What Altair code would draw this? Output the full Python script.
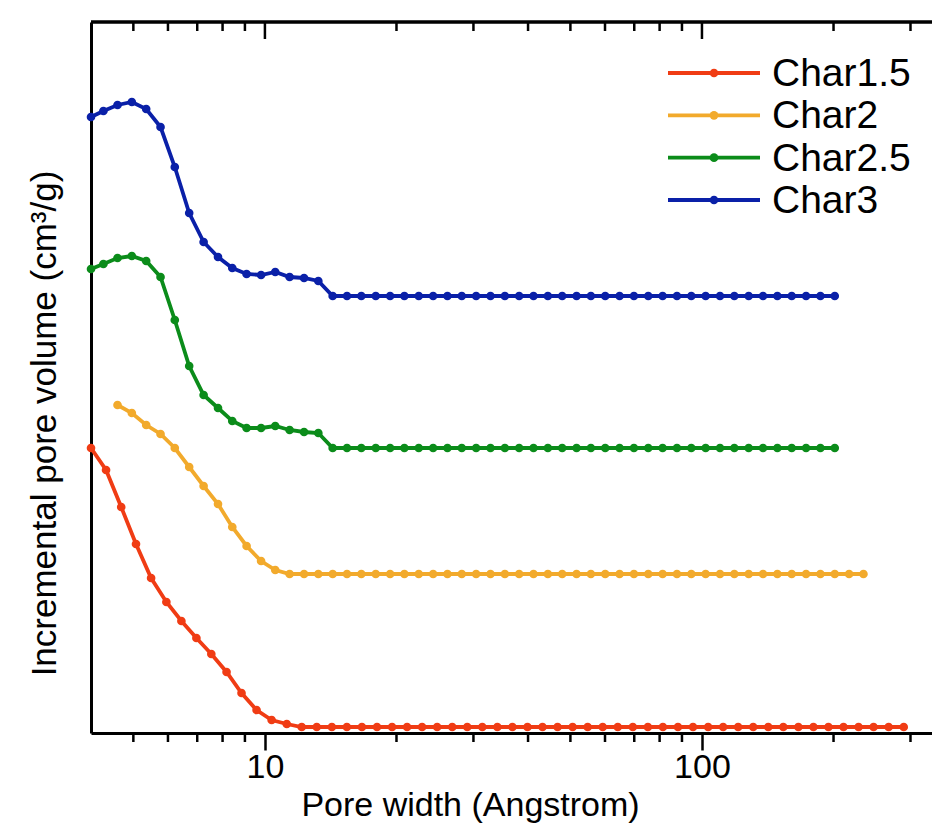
import altair as alt
import pandas as pd

# ---- data (pore width in Angstrom, volume in relative units) ----
series_names = ["Char1.5", "Char2", "Char2.5", "Char3"]
series_colors = ["#f03c14", "#f2aa2c", "#0b8c1a", "#0a20a8"]

w_char15 = [4.00, 4.33, 4.69, 5.07, 5.49, 5.95, 6.44, 6.97, 7.54, 8.17, 8.84, 9.57,
            10.36, 11.22, 12.14, 13.14, 14.23, 15.40, 16.67, 18.05, 19.54, 21.15,
            22.89, 24.78, 26.83, 29.04, 31.44, 34.03, 36.84, 39.88, 43.17, 46.73,
            50.59, 54.76, 59.28, 64.17, 69.47, 75.20, 81.40, 88.12, 95.39, 103.3,
            111.8, 121.0, 131.0, 141.8, 153.5, 166.2, 179.9, 194.7, 210.8, 228.2,
            247.0, 267.4, 289.5]
v_char15 = [285, 263, 226, 189, 155, 131, 112, 95, 79, 61, 40, 23,
            13, 9, 6, 6, 6, 6, 6, 6, 6, 6,
            6, 6, 6, 6, 6, 6, 6, 6, 6, 6,
            6, 6, 6, 6, 6, 6, 6, 6, 6, 6,
            6, 6, 6, 6, 6, 6, 6, 6, 6, 6,
            6, 6, 6]

w_char2 = [4.60, 4.96, 5.35, 5.77, 6.22, 6.71, 7.24, 7.81, 8.42, 9.08, 9.80, 10.56,
           11.39, 12.29, 13.25, 14.29, 15.41, 16.62, 17.93, 19.34, 20.85, 22.49,
           24.26, 26.16, 28.21, 30.43, 32.82, 35.40, 38.17, 41.17, 44.40, 47.89,
           51.65, 55.70, 60.07, 64.79, 69.88, 75.36, 81.28, 87.66, 94.54, 101.96,
           109.97, 118.60, 127.91, 137.95, 148.78, 160.46, 173.06, 186.65, 201.30,
           217.10, 234.15]
v_char2 = [328, 320, 308, 299, 285, 266, 247, 229, 206, 187, 172, 163,
           159, 159, 159, 159, 159, 159, 159, 159, 159, 159,
           159, 159, 159, 159, 159, 159, 159, 159, 159, 159,
           159, 159, 159, 159, 159, 159, 159, 159, 159, 159,
           159, 159, 159, 159, 159, 159, 159, 159, 159,
           159, 159]

w_char25 = [4.00, 4.27, 4.60, 4.96, 5.35, 5.77, 6.22, 6.71, 7.24, 7.81, 8.42, 9.08,
            9.80, 10.56, 11.39, 12.29, 13.25, 14.29, 15.41, 16.62, 17.93, 19.34,
            20.85, 22.49, 24.26, 26.16, 28.21, 30.43, 32.82, 35.40, 38.17, 41.17,
            44.40, 47.89, 51.65, 55.70, 60.07, 64.79, 69.88, 75.36, 81.28, 87.66,
            94.54, 101.96, 109.97, 118.60, 127.91, 137.95, 148.78, 160.46, 173.06,
            186.65, 201.30]
v_char25 = [464, 469, 475, 477, 472, 456, 413, 367, 338, 325, 312, 305,
            305, 307, 303, 301, 300, 285, 285, 285, 285, 285,
            285, 285, 285, 285, 285, 285, 285, 285, 285, 285,
            285, 285, 285, 285, 285, 285, 285, 285, 285, 285,
            285, 285, 285, 285, 285, 285, 285, 285, 285,
            285, 285]

w_char3 = list(w_char25)
v_char3 = [616, 622, 628, 631, 624, 606, 566, 520, 491, 476, 465, 459,
           458, 461, 456, 455, 452, 437, 437, 437, 437, 437,
           437, 437, 437, 437, 437, 437, 437, 437, 437, 437,
           437, 437, 437, 437, 437, 437, 437, 437, 437, 437,
           437, 437, 437, 437, 437, 437, 437, 437, 437,
           437, 437]

major_ticks = [10, 100]
minor_ticks = [5, 6, 7, 8, 9, 20, 30, 40, 50, 60, 70, 80, 90, 200, 300]

# ---- tables ----
rows = []
for name, ws, vs in zip(series_names,
                        [w_char15, w_char2, w_char25, w_char3],
                        [v_char15, v_char2, v_char25, v_char3]):
    for w, v in zip(ws, vs):
        rows.append({"series": name, "width": w, "vol": v})
df = pd.DataFrame(rows)
df_major = pd.DataFrame({"width": major_ticks})
df_minor = pd.DataFrame({"width": minor_ticks})
df_legend = pd.DataFrame({"series": series_names, "row": list(range(len(series_names)))})

W, H = 841, 711
X_MIN, X_MAX = 4, 336
Y_MAX = 711
FONT = "Liberation Sans"

xscale = alt.Scale(type="log", domain=[X_MIN, X_MAX], nice=False)
yscale = alt.Scale(domain=[0, Y_MAX], nice=False, zero=False)
cscale = alt.Scale(domain=series_names, range=series_colors)
rowscale = alt.Scale(domain=[0, len(series_names) - 1], range=[51, 178], nice=False, zero=False)

x_axis = alt.Axis(orient="bottom", values=major_ticks, format="d",
                  tickSize=17, tickWidth=2.5, tickColor="black",
                  domainWidth=3, domainColor="black", grid=False,
                  labelFontSize=34, labelFont=FONT, labelColor="black",
                  labelPadding=0, labelFlush=False,
                  title="Pore width (Angstrom)", titleFontSize=34,
                  titleFont=FONT, titleFontWeight="normal",
                  titleColor="black", titleX=379, titleY=82,
                  titleBaseline="alphabetic", titleAlign="center")

y_axis = alt.Axis(ticks=False, labels=False, grid=False,
                  domainWidth=3, domainColor="black",
                  title="Incremental pore volume (cm³/g)",
                  titleFontSize=35, titleFont=FONT,
                  titleFontWeight="normal", titleColor="black",
                  titleAngle=270, titleX=-36, titleY=401,
                  titleBaseline="alphabetic", titleAlign="center")

lines = alt.Chart(df).mark_line(
    strokeWidth=3.8,
    point=alt.OverlayMarkDef(filled=True, size=75, opacity=1),
).encode(
    x=alt.X("width:Q", scale=xscale, axis=x_axis),
    y=alt.Y("vol:Q", scale=yscale, axis=y_axis),
    color=alt.Color("series:N", scale=cscale, legend=None),
    order=alt.Order("width:Q"),
)

# minor/major tick marks and top frame, placed through the x and y scales
bottom_minor = alt.Chart(df_minor).mark_rule().encode(
    x=alt.X("width:Q", scale=xscale, axis=x_axis),
    y=alt.datum(0, scale=yscale, axis=y_axis), y2=alt.datum(-9),
    color=alt.value("black"), strokeWidth=alt.value(2.5),
)
top_minor = alt.Chart(df_minor).mark_rule().encode(
    x=alt.X("width:Q", scale=xscale, axis=x_axis),
    y=alt.datum(Y_MAX, scale=yscale, axis=y_axis), y2=alt.datum(Y_MAX - 9),
    color=alt.value("black"), strokeWidth=alt.value(2.5),
)
top_major = alt.Chart(df_major).mark_rule().encode(
    x=alt.X("width:Q", scale=xscale, axis=x_axis),
    y=alt.datum(Y_MAX, scale=yscale, axis=y_axis), y2=alt.datum(Y_MAX - 17),
    color=alt.value("black"), strokeWidth=alt.value(2.5),
)
top_frame = alt.Chart(df_major).mark_rule().encode(
    x=alt.datum(X_MIN, scale=xscale, axis=x_axis), x2=alt.datum(X_MAX),
    y=alt.datum(Y_MAX, scale=yscale, axis=y_axis),
    color=alt.value("black"), strokeWidth=alt.value(3),
)

main = alt.layer(lines, bottom_minor, top_minor, top_major, top_frame)

# ---- legend drawn from the series list ----
leg_line = alt.Chart(df_legend).mark_rule(strokeWidth=3.8).encode(
    x=alt.value(577), x2=alt.value(669),
    y=alt.Y("row:Q", scale=rowscale, axis=None),
    color=alt.Color("series:N", scale=cscale, legend=None),
)
leg_dot = alt.Chart(df_legend).mark_point(filled=True, size=75, opacity=1).encode(
    x=alt.value(623),
    y=alt.Y("row:Q", scale=rowscale, axis=None),
    color=alt.Color("series:N", scale=cscale, legend=None),
)
leg_text = alt.Chart(df_legend).mark_text(
    align="left", baseline="middle", fontSize=39, font=FONT, color="black", dy=1,
).encode(
    x=alt.value(681),
    y=alt.Y("row:Q", scale=rowscale, axis=None),
    text="series:N",
)
legend = alt.layer(leg_line, leg_dot, leg_text)

chart = alt.layer(main, legend).resolve_scale(y="independent").properties(
    width=W, height=H,
    autosize=alt.AutoSizeParams(type="none"),
    padding={"left": 91, "top": 22, "right": 0, "bottom": 101},
    background="white",
).configure_view(stroke=None).configure(font=FONT)

chart.save("out.html", embed_options={"renderer": "svg", "actions": False})
